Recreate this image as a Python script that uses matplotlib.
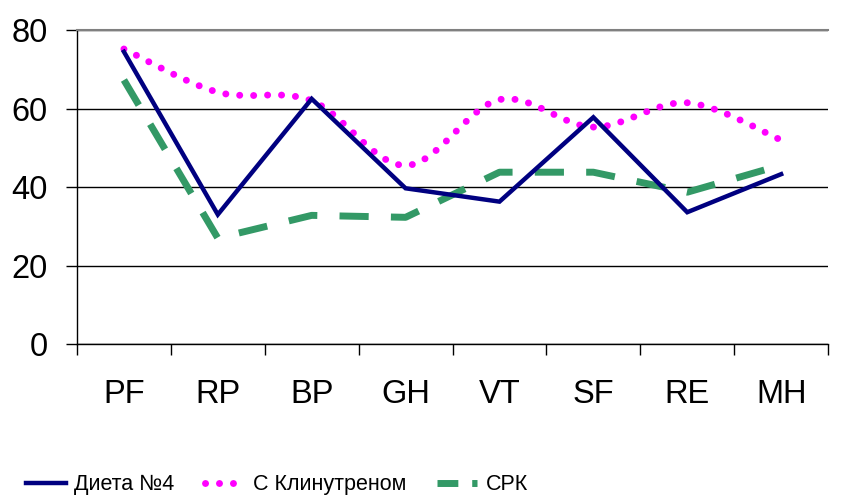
import numpy as np
import matplotlib
matplotlib.use("Agg")
import matplotlib.pyplot as plt
from matplotlib.path import Path
from matplotlib.patches import PathPatch
from matplotlib.lines import Line2D

plt.rcParams['font.family'] = ['Liberation Sans', 'DejaVu Sans']

# SF-36 scales and mean scores per group
scales = ['PF', 'RP', 'BP', 'GH', 'VT', 'SF', 'RE', 'MH']
diet4 = [74.5, 33.0, 62.5, 39.7, 36.3, 57.8, 33.6, 43.3]
clinutren = [75.2, 64.2, 62.0, 45.5, 62.3, 55.3, 61.5, 52.0]
srk = [67.3, 27.0, 32.8, 32.3, 43.8, 43.8, 38.7, 45.6]

navy = '#000080'
magenta = '#FF00FF'
green = '#339966'


def smooth_path(xs, ys):
    # Catmull-Rom curve expressed as cubic Bezier segments
    pts = np.column_stack([xs, ys]).astype(float)
    ext = np.vstack([pts[0], pts, pts[-1]])
    verts = [pts[0]]
    codes = [Path.MOVETO]
    for i in range(len(pts) - 1):
        p0, p1, p2, p3 = ext[i], ext[i + 1], ext[i + 2], ext[i + 3]
        c1 = p1 + (p2 - p0) / 6.0
        c2 = p2 - (p3 - p1) / 6.0
        verts += [c1, c2, p2]
        codes += [Path.CURVE4] * 3
    return Path(verts, codes)


fig = plt.figure(figsize=(8.59, 5.03), dpi=100)
ax = fig.add_axes([0.0896, 0.316, 0.8744, 0.624])

x = np.arange(len(scales))

ax.plot(x, diet4, color=navy, lw=3.2, solid_joinstyle='miter', zorder=4)

curve = PathPatch(smooth_path(x, clinutren), facecolor='none', edgecolor=magenta,
                  lw=5, linestyle=(0, (0.01, 2.0)), zorder=3)
curve.set_capstyle('round')
ax.add_patch(curve)

ax.plot(x, srk, color=green, lw=5, linestyle=(0, (4.2, 3.2)),
        dash_capstyle='butt', zorder=3)

ax.set_xlim(-0.5, len(scales) - 0.5)
ax.set_ylim(0, 80)
ax.set_yticks([0, 20, 40, 60, 80])
ax.yaxis.grid(True, color='black', lw=1)
ax.set_axisbelow(True)

ax.set_xticks(x)
ax.set_xticklabels(scales)
ax.set_xticks(np.arange(len(scales) + 1) - 0.5, minor=True)
ax.tick_params(axis='x', which='major', length=0, pad=25, labelsize=23.5)
ax.tick_params(axis='x', which='minor', length=8, width=1, direction='out')
ax.tick_params(axis='y', length=8, width=1, direction='out', pad=13, labelsize=23.5)

ax.spines['right'].set_visible(False)
ax.spines['top'].set_color('#808080')
ax.spines['top'].set_linewidth(1.5)
for s in ('left', 'bottom'):
    ax.spines[s].set_color('black')
    ax.spines[s].set_linewidth(1)

handles = [
    Line2D([], [], color=navy, lw=3.2),
    Line2D([], [], color=magenta, lw=5, linestyle=(0, (0.01, 2.0)),
           dash_capstyle='round'),
    Line2D([], [], color=green, lw=5, linestyle=(0, (3.0, 2.0))),
]
labels = ['Диета №4', 'С Клинутреном', 'СРК']
fig.legend(handles, labels, loc='center', bbox_to_anchor=(0.322, 0.036),
           ncol=3, frameon=False, handlelength=1.86, handletextpad=0.4,
           columnspacing=1.4, fontsize=15.5)

fig.savefig('out.png', dpi=100)
